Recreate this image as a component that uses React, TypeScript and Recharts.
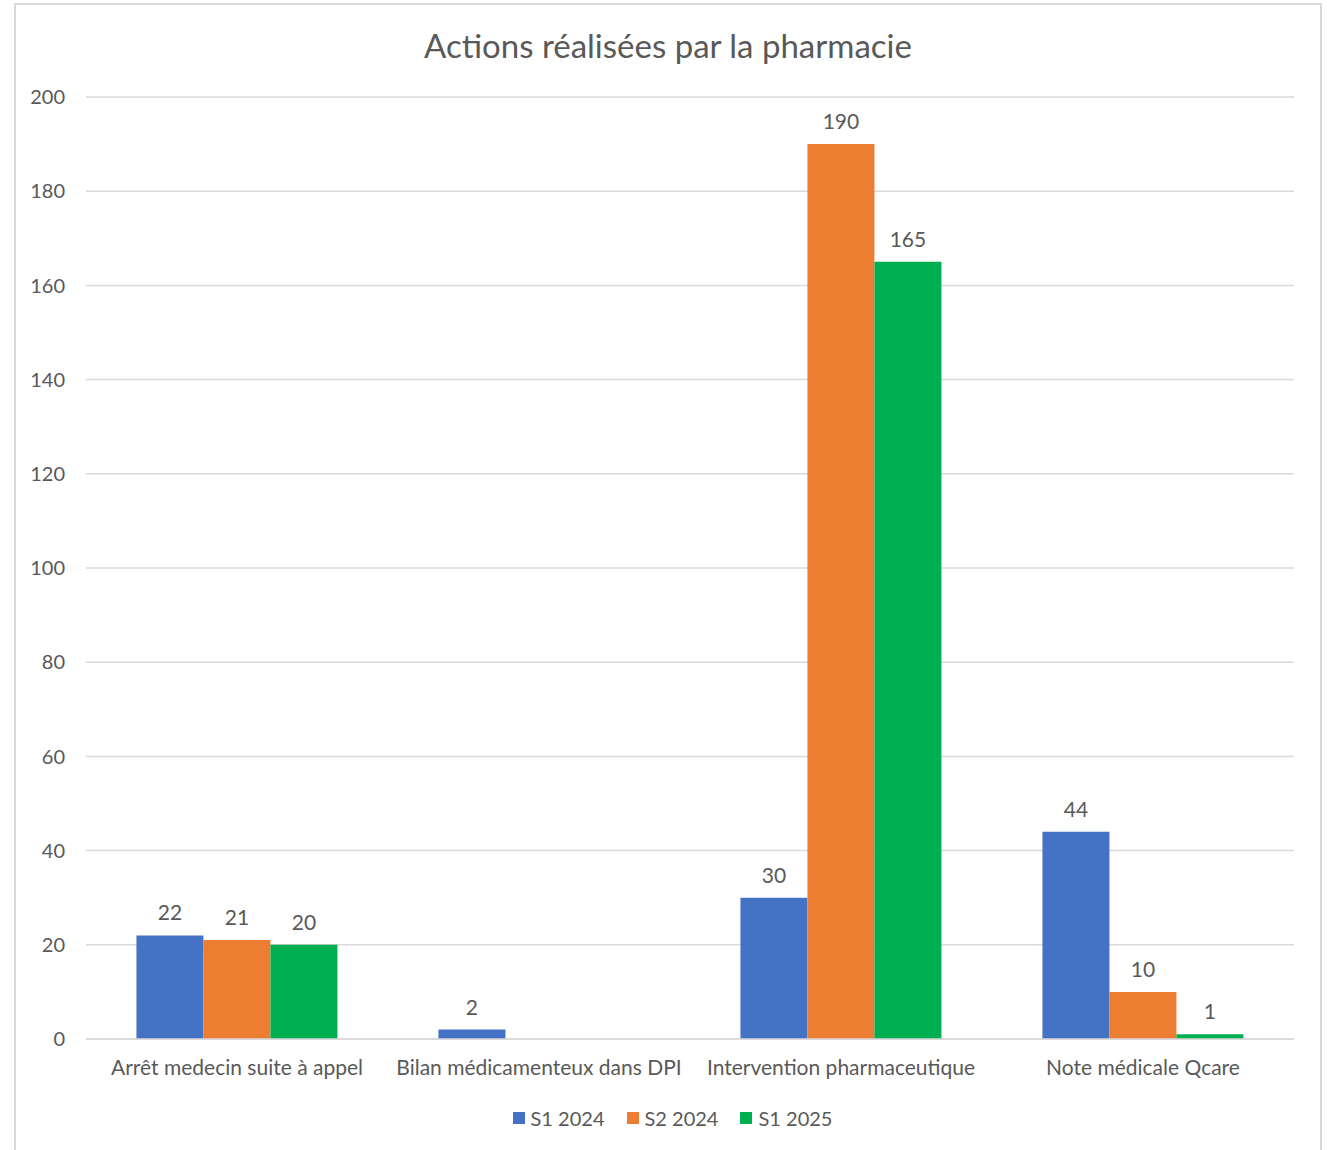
import React from "react";
import {
    BarChart, Bar, XAxis, YAxis, CartesianGrid, Legend, LabelList
} from 'recharts';

const categories = [
    "Arrêt medecin suite à appel",
    "Bilan médicamenteux dans DPI",
    "Intervention pharmaceutique",
    "Note médicale Qcare",
];
const s1_2024 = [22, 2, 30, 44];
const s2_2024 = [21, null, 190, 10];
const s1_2025 = [20, null, 165, 1];
const yTicks = [0, 20, 40, 60, 80, 100, 120, 140, 160, 180, 200];

const seriesNames = ["S1 2024", "S2 2024", "S1 2025"];
const colors = ["#4472C4", "#ED7D31", "#00B050"];

const data = categories.map((name, i) => ({
    name,
    s1: s1_2024[i],
    s2: s2_2024[i],
    s3: s1_2025[i],
}));

const FONT = "Lato, 'Liberation Sans', sans-serif";
const TEXT = "#595959";

// legend in series order (recharts sorts by name otherwise)
function renderLegend() {
    return <div style={{ display: "flex", justifyContent: "center", fontFamily: FONT, fontSize: 20, color: TEXT }}>
        {seriesNames.map((name, i) => (
            <div key={name} style={{ display: "flex", alignItems: "center", marginRight: i < seriesNames.length - 1 ? 22 : 0 }}>
                <span style={{ display: "inline-block", width: 12, height: 12, background: colors[i], marginRight: 6 }} />
                <span>{name}</span>
            </div>
        ))}
    </div>
}

export default function App() {
    return <div style={{ position: "absolute", left: 0, top: 0, width: 1327, height: 1150, background: "#fff" }}>
        <div style={{
            position: "absolute", left: 14, top: 3, width: 1308, height: 1160,
            border: "2px solid #d9d9d9", boxSizing: "border-box"
        }} />
        <div style={{
            position: "absolute", left: 14, top: 25, width: 1308, textAlign: "center",
            fontFamily: FONT, fontSize: 33, color: TEXT, lineHeight: "40px"
        }}>
            Actions réalisées par la pharmacie
        </div>
        <div style={{ position: "absolute", left: 0, top: 0 }}>
            <BarChart
                width={1327}
                height={1150}
                data={data}
                margin={{ top: 97, right: 33, left: 26, bottom: 81 }}
                barCategoryGap="16.7%"
                barGap={0}
            >
                <CartesianGrid vertical={false} stroke="#d9d9d9" strokeWidth={1.5} />
                <XAxis
                    dataKey="name"
                    height={30}
                    axisLine={{ stroke: "#d9d9d9", strokeWidth: 1.5 }}
                    tickLine={false}
                    tickSize={0}
                    tickMargin={21}
                    interval={0}
                    tick={{ fill: TEXT, fontSize: 21, fontFamily: FONT }}
                />
                <YAxis
                    width={60}
                    domain={[0, 200]}
                    ticks={yTicks}
                    interval={0}
                    axisLine={false}
                    tickLine={false}
                    tickSize={0}
                    tickMargin={21}
                    tick={{ fill: TEXT, fontSize: 20, fontFamily: FONT }}
                />
                <Legend
                    verticalAlign="middle"
                    layout="horizontal"
                    content={renderLegend}
                    wrapperStyle={{ position: "absolute", top: 1106, left: 9, width: 1327 }}
                />
                <Bar dataKey="s1" name={seriesNames[0]} fill={colors[0]} isAnimationActive={false}>
                    <LabelList dataKey="s1" position="top" offset={15} fill={TEXT} fontSize={21} fontFamily={FONT} />
                </Bar>
                <Bar dataKey="s2" name={seriesNames[1]} fill={colors[1]} isAnimationActive={false}>
                    <LabelList dataKey="s2" position="top" offset={15} fill={TEXT} fontSize={21} fontFamily={FONT} />
                </Bar>
                <Bar dataKey="s3" name={seriesNames[2]} fill={colors[2]} isAnimationActive={false}>
                    <LabelList dataKey="s3" position="top" offset={15} fill={TEXT} fontSize={21} fontFamily={FONT} />
                </Bar>
            </BarChart>
        </div>
    </div>
}
